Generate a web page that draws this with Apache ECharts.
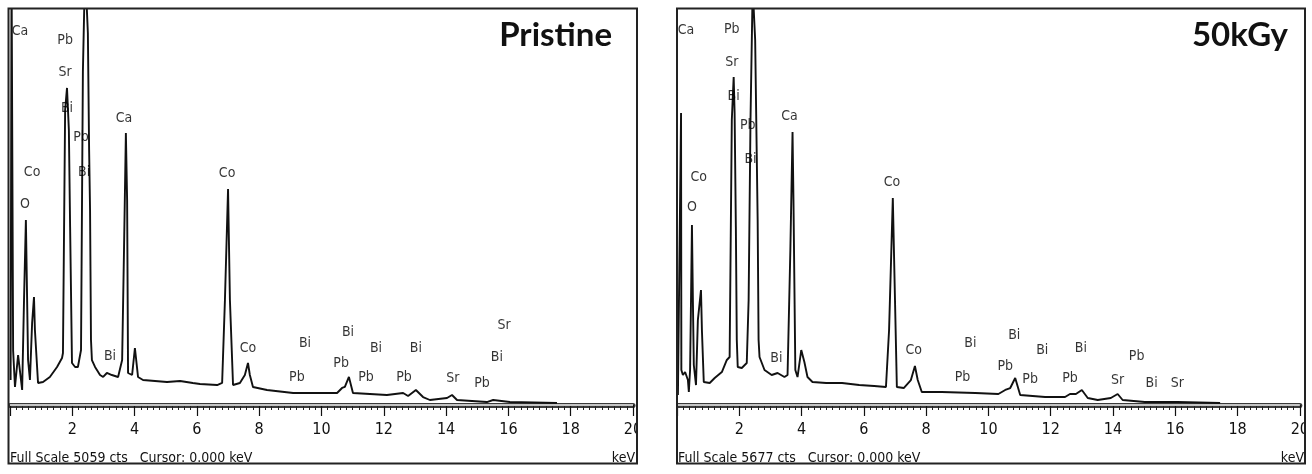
<!DOCTYPE html>
<html>
<head>
<meta charset="utf-8">
<title>EDS spectra</title>
<script src="https://cdn.jsdelivr.net/npm/echarts@6/dist/echarts.min.js"></script>
<style>
  html, body { margin: 0; padding: 0; background: #fff; }
  #chart { width: 1312px; height: 474px; }
</style>
</head>
<body>
<div id="chart"></div>
<script>
// ---- EDS spectrum, pristine sample (energy in keV, intensity in counts) ----
const pristineKeV = [0.02, 0.05, 0.10, 0.16, 0.26, 0.39, 0.45, 0.51, 0.58, 0.64, 0.71, 0.77, 0.80, 0.90,
  1.06, 1.28, 1.51, 1.67, 1.70, 1.77, 1.83, 1.89, 1.93, 1.99, 2.09, 2.18, 2.28, 2.34, 2.41, 2.47, 2.50,
  2.54, 2.57, 2.60, 2.63, 2.73, 2.89, 2.99, 3.11, 3.27, 3.47, 3.60, 3.66, 3.72, 3.76, 3.79, 3.92, 4.01,
  4.11, 4.27, 5.04, 5.46, 5.87, 6.10, 6.65, 6.81, 6.90, 7.00, 7.06, 7.16, 7.38, 7.54, 7.64, 7.70, 7.80,
  8.25, 9.09, 9.95, 10.50, 10.66, 10.75, 10.88, 11.01, 12.10, 12.62, 12.78, 13.03, 13.26, 13.48, 14.03,
  14.19, 14.35, 15.31, 15.51, 16.05, 17.56];
const pristineCts = [320, 5600, 700, 231, 640, 192, 1345, 2370, 576, 320, 1050, 1383, 960, 282,
  295, 359, 487, 602, 666, 3779, 4061, 3523, 2280, 538, 487, 487, 705, 4266, 5600, 5600, 4765,
  3267, 2498, 833, 576, 487, 384, 359, 410, 384, 359, 576, 1986, 3484, 2626, 410, 384, 730,
  359, 320, 295, 307, 282, 269, 256, 282, 1345, 2767, 1345, 256, 282, 384, 538, 384, 231,
  192, 154, 154, 154, 218, 231, 359, 154, 128, 154, 115, 192, 102, 64, 90,
  128, 64, 38, 64, 38, 26];

// ---- EDS spectrum after 50 kGy irradiation ----
const irradKeV = [0.03, 0.13, 0.14, 0.19, 0.26, 0.35, 0.38, 0.42, 0.45, 0.48, 0.51, 0.54, 0.61, 0.67,
  0.77, 0.80, 0.86, 1.05, 1.21, 1.44, 1.60, 1.69, 1.76, 1.82, 1.85, 1.89, 1.92, 1.95, 2.08, 2.24, 2.30,
  2.36, 2.43, 2.49, 2.51, 2.56, 2.59, 2.62, 2.65, 2.81, 3.04, 3.23, 3.45, 3.55, 3.64, 3.71, 3.74, 3.80,
  3.87, 3.99, 4.09, 4.19, 4.35, 4.79, 5.30, 5.85, 6.33, 6.71, 6.81, 6.93, 7.00, 7.06, 7.28, 7.51, 7.64,
  7.73, 7.86, 8.50, 9.58, 10.32, 10.54, 10.70, 10.86, 11.02, 11.82, 12.46, 12.62, 12.81, 13.00, 13.19,
  13.51, 13.93, 14.15, 14.31, 15.02, 15.65, 16.07, 17.44];
const irradCts = [144, 4196, 503, 431, 474, 359, 187, 503, 1509, 2587, 1509, 575, 287, 1221,
  1653, 1078, 331, 316, 388, 474, 647, 690, 4095, 4713, 4196, 2558, 934, 546, 532, 604, 1509,
  4095, 6000, 6000, 5245, 3621, 2658, 934, 690, 503, 431, 460, 402, 431, 2227, 3923, 2946, 503,
  402, 790, 618, 402, 331, 316, 316, 287, 273, 259, 1078, 2975, 1509, 259, 244, 359, 560,
  359, 187, 187, 172, 158, 216, 244, 388, 144, 115, 115, 158, 158, 216, 101,
  72, 101, 158, 72, 43, 43, 43, 29];

// ---- peak identifications (element, keV position, counts level of the tag) ----
const pristineTags = ['Ca', 'Pb', 'Sr', 'Bi', 'Ca', 'Pb', 'Co', 'Bi', 'O', 'Co', 'Bi', 'Co', 'Bi', 'Pb',
  'Bi', 'Pb', 'Bi', 'Pb', 'Bi', 'Pb', 'Sr', 'Pb', 'Bi', 'Sr'];
const pristineTagKeV = [0.32, 1.77, 1.77, 1.83, 3.66, 2.28, 0.71, 2.38, 0.48, 6.97, 3.21, 7.64, 9.47, 9.21,
  10.85, 10.63, 11.75, 11.43, 13.03, 12.65, 14.22, 15.15, 15.63, 15.86];
const pristineTagCts = [4791, 4676, 4266, 3805, 3676, 3433, 2985, 2985, 2575, 2972, 628, 730, 794, 359,
  935, 538, 730, 359, 730, 359, 346, 282, 615, 1025];

const irradTags = ['Ca', 'Pb', 'Sr', 'Bi', 'Ca', 'Pb', 'Bi', 'Co', 'O', 'Co', 'Bi', 'Co', 'Bi', 'Pb',
  'Bi', 'Pb', 'Bi', 'Pb', 'Bi', 'Pb', 'Sr', 'Pb', 'Bi', 'Sr'];
const irradTagKeV = [0.29, 1.76, 1.76, 1.82, 3.61, 2.27, 2.36, 0.70, 0.48, 6.90, 3.19, 7.60, 9.42, 9.17,
  10.83, 10.54, 11.73, 11.34, 12.97, 12.62, 14.15, 14.76, 15.24, 16.07];
const irradTagCts = [5389, 5403, 4929, 4440, 4153, 4024, 3535, 3276, 2845, 3204, 675, 790, 891, 402,
  1006, 560, 790, 374, 819, 388, 359, 704, 316, 316];

// ---- panel captions and scale ----
const panelTitles = ['Pristine', '50kGy'];
const fullScale = [5059, 5677];
const axisUnit = 'keV';
const energyTicks = { min: 0, max: 20, step: 2 };

const narrowFont = "'Liberation Sans Narrow', 'DejaVu Sans Condensed', 'Liberation Sans', Arial, sans-serif";

function pairs(xs, ys) { return xs.map((x, i) => [x, ys[i]]); }
function tags(names, xs, ys) { return names.map((n, i) => ({ name: n, value: [xs[i], ys[i]] })); }

const grids = [
  { left: 10, width: 623, top: 10, bottom: 69 },
  { left: 677, width: 626, top: 10, bottom: 69 }
];

function energyAxis(gridIndex) {
  return {
    type: 'value', gridIndex: gridIndex,
    min: energyTicks.min, max: energyTicks.max, interval: energyTicks.step,
    axisLine: { show: true, lineStyle: { color: '#3a3a3a', width: 5 } },
    axisTick: { show: true, length: 11, lineStyle: { color: '#111', width: 1.2 } },
    minorTick: { show: true, splitNumber: 10, length: 5, lineStyle: { color: '#222', width: 1 } },
    splitLine: { show: false },
    minorSplitLine: { show: false },
    axisLabel: {
      margin: 17, fontSize: 16, color: '#111', fontFamily: narrowFont,
      showMinLabel: false, showMaxLabel: true
    }
  };
}

function countAxis(gridIndex, max) {
  return {
    type: 'value', gridIndex: gridIndex, min: 0, max: max, show: false,
    splitLine: { show: false }
  };
}

function spectrum(idx, data) {
  return {
    type: 'line', xAxisIndex: idx, yAxisIndex: idx, data: data,
    showSymbol: false, symbol: 'none', clip: true, silent: true, z: 3,
    lineStyle: { color: '#111', width: 1.9 },
    markLine: {
      silent: true, symbol: 'none', label: { show: false },
      lineStyle: { color: '#c4c4c4', width: 2, type: 'solid' },
      data: [{ yAxis: 0 }]
    }
  };
}

function peakTags(idx, data) {
  return {
    type: 'scatter', xAxisIndex: idx, yAxisIndex: idx, data: data,
    symbolSize: 0, silent: true, z: 4,
    label: {
      show: true, position: 'inside', formatter: '{b}',
      fontSize: 14, color: '#000', fontFamily: narrowFont,
      textBorderWidth: 0, textShadowBlur: 0
    }
  };
}

const chart = echarts.init(document.getElementById('chart'), null, { renderer: 'canvas' });

const option = {
  animation: false,
  backgroundColor: '#ffffff',
  grid: grids,
  xAxis: [energyAxis(0), energyAxis(1)],
  yAxis: [countAxis(0, fullScale[0]), countAxis(1, fullScale[1])],
  title: [
    { text: panelTitles[0], right: 695, top: 14,
      textStyle: { fontFamily: 'Lato, "Open Sans", sans-serif', fontWeight: 'bold', fontSize: 33, color: '#111' } },
    { text: panelTitles[1], right: 19, top: 14,
      textStyle: { fontFamily: 'Lato, "Open Sans", sans-serif', fontWeight: 'bold', fontSize: 33, color: '#111' } }
  ],
  series: [
    spectrum(0, pairs(pristineKeV, pristineCts)),
    spectrum(1, pairs(irradKeV, irradCts)),
    peakTags(0, tags(pristineTags, pristineTagKeV, pristineTagCts)),
    peakTags(1, tags(irradTags, irradTagKeV, irradTagCts))
  ],
  graphic: [
    // blank margins outside the two instrument frames
    { type: 'rect', z: 90, silent: true, shape: { x: 0, y: 0, width: 8, height: 474 }, style: { fill: '#fff' } },
    { type: 'rect', z: 90, silent: true, shape: { x: 638, y: 0, width: 38, height: 474 }, style: { fill: '#fff' } },
    { type: 'rect', z: 90, silent: true, shape: { x: 1306, y: 0, width: 6, height: 474 }, style: { fill: '#fff' } },
    // instrument frames
    { type: 'rect', z: 100, silent: true, shape: { x: 8.5, y: 8.5, width: 628.5, height: 455 },
      style: { fill: 'none', stroke: '#222', lineWidth: 2 } },
    { type: 'rect', z: 100, silent: true, shape: { x: 677, y: 8.5, width: 628, height: 455 },
      style: { fill: 'none', stroke: '#222', lineWidth: 2 } },
    // status lines
    { type: 'text', z: 100, silent: true, left: 10, top: 451,
      style: { text: 'Full Scale ' + fullScale[0] + ' cts   Cursor: 0.000 keV', fontSize: 14, fontFamily: narrowFont, fill: '#111' } },
    { type: 'text', z: 100, silent: true, left: 678, top: 451,
      style: { text: 'Full Scale ' + fullScale[1] + ' cts   Cursor: 0.000 keV', fontSize: 14, fontFamily: narrowFont, fill: '#111' } },
    { type: 'text', z: 100, silent: true, right: 677, top: 451,
      style: { text: axisUnit, fontSize: 14, fontFamily: narrowFont, fill: '#111' } },
    { type: 'text', z: 100, silent: true, right: 8, top: 451,
      style: { text: axisUnit, fontSize: 14, fontFamily: narrowFont, fill: '#111' } }
  ]
};

chart.setOption(option);
</script>
</body>
</html>
